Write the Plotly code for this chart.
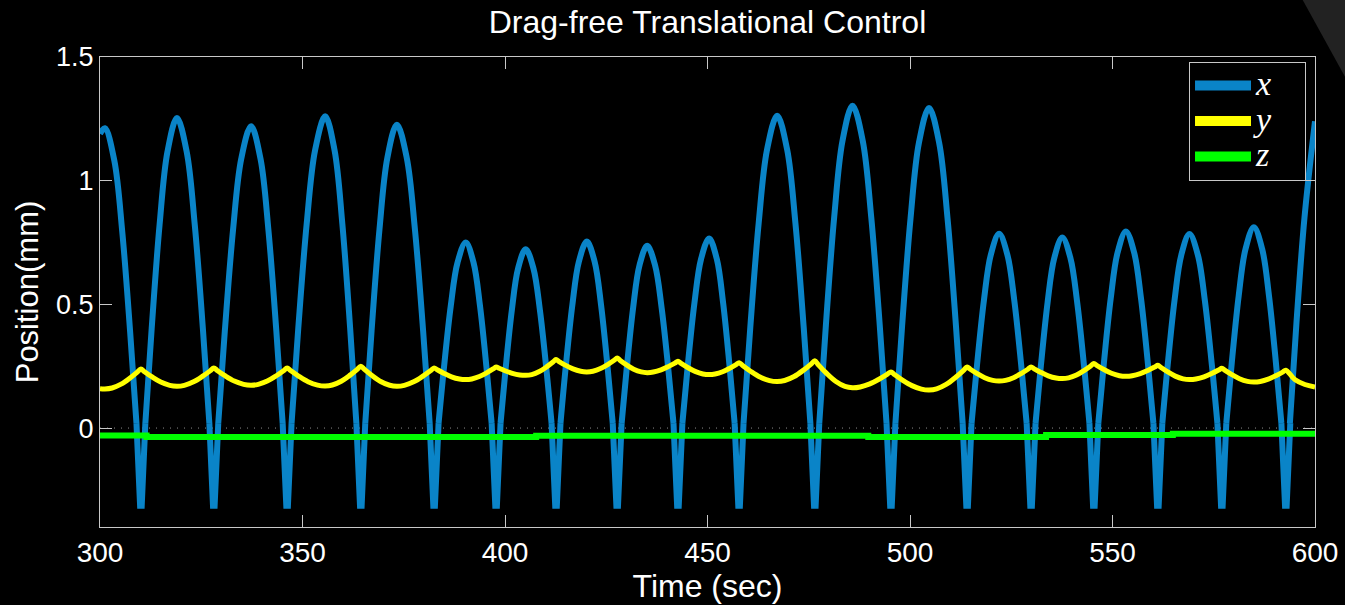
import plotly.graph_objects as go

# ---------------- data ----------------
# x (blue): times of the sharp downward spikes, spike bottoms, arc peaks
dip_t = [310.1, 328.1, 346.2, 364.4, 382.5, 397.8, 412.6, 427.7, 442.7,
         457.8, 476.5, 495.3, 514.1, 529.9, 545.4, 561.2, 577.0, 592.8]
dip_v = [-0.314] * 18
peak_t = [301.2, 319.0, 337.3, 355.6, 373.3, 390.3, 405.1, 420.2, 435.1,
          450.4, 467.2, 485.8, 504.7, 522.0, 537.6, 553.3, 569.0, 584.9]
peak_h = [1.212, 1.253, 1.220, 1.260, 1.226, 0.750, 0.723, 0.754, 0.737,
          0.766, 1.263, 1.303, 1.294, 0.785, 0.770, 0.795, 0.784, 0.812]
x_start = (300.0, 1.19)
x_end_t = [593.8, 595.4, 597.4, 600.0]
x_end_v = [0.02, 0.42, 0.85, 1.24]
# shape of one half-arc (fraction of time base->peak, fraction of height)
arc_u = [0.0, 0.2, 0.45, 0.7, 1.0]
arc_v = [0.0, 0.31, 0.65, 0.89, 1.0]
arc_base = 0.02
spike_halfwidth = 1.1
spike_tip_halfwidth = 0.2

# y (yellow): cusp values at spike times, minima between cusps
y_cusp = [0.239, 0.243, 0.243, 0.250, 0.243, 0.247, 0.277, 0.283, 0.270,
          0.264, 0.272, 0.227, 0.247, 0.247, 0.261, 0.254, 0.242, 0.234]
y_min = [0.158, 0.169, 0.173, 0.170, 0.169, 0.196, 0.213, 0.227, 0.224,
         0.216, 0.188, 0.163, 0.154, 0.190, 0.200, 0.209, 0.196, 0.186]
y_start = (300.0, 0.159)
y_end_t = [595.0, 597.5, 600.0]
y_end_v = [0.196, 0.176, 0.166]
cusp_u = [0.0, 0.1, 0.3, 0.55, 0.8, 1.0]
cusp_f = [0.0, 0.16, 0.45, 0.76, 0.95, 1.0]

# z (green): piecewise-constant level
z_t = [300.0, 311.5, 407.7, 489.7, 533.6, 564.9, 600.0]
z_v = [-0.030, -0.036, -0.031, -0.036, -0.028, -0.023, -0.023]

x_ticks = [300, 350, 400, 450, 500, 550, 600]
y_ticks = [0, 0.5, 1, 1.5]
series_names = ['x', 'y', 'z']

# ---------------- assemble marks ----------------
def half_arc(t_base, t_peak, h, rising=True):
    pts = [(t_base + (t_peak - t_base) * u, arc_base + (h - arc_base) * v)
           for u, v in zip(arc_u, arc_v)]
    return pts if rising else pts[::-1]

arc_t, arc_y = [], []
pts = [x_start, (peak_t[0], peak_h[0])] + half_arc(dip_t[0] - spike_halfwidth, peak_t[0], peak_h[0], rising=False)[1:]
arc_t += [p[0] for p in pts] + [None]
arc_y += [p[1] for p in pts] + [None]
for i in range(1, len(peak_t)):
    left = half_arc(dip_t[i - 1] + spike_halfwidth, peak_t[i], peak_h[i], True)
    right = half_arc(dip_t[i] - spike_halfwidth, peak_t[i], peak_h[i], False)
    pts = left + right[1:]
    arc_t += [p[0] for p in pts] + [None]
    arc_y += [p[1] for p in pts] + [None]
arc_t += x_end_t
arc_y += x_end_v

spk_t, spk_y = [], []
for td, dv in zip(dip_t, dip_v):
    spk_t += [td - spike_halfwidth, td - spike_tip_halfwidth, td + spike_tip_halfwidth,
              td + spike_halfwidth, None]
    spk_y += [arc_base, dv, dv, arc_base, None]

yl_t, yl_v = [y_start[0]], [y_start[1]]
yl_t.append(peak_t[0]); yl_v.append(y_min[0])
for i, td in enumerate(dip_t):
    c = y_cusp[i]
    tm, vm = peak_t[i], y_min[i]
    for u, f in list(zip(cusp_u, cusp_f))[::-1][1:]:
        yl_t.append(td - (td - tm) * u); yl_v.append(c - (c - vm) * f)
    if i + 1 < len(peak_t):
        tn, vn = peak_t[i + 1], y_min[i + 1]
        for u, f in list(zip(cusp_u, cusp_f))[1:]:
            yl_t.append(td + (tn - td) * u); yl_v.append(c - (c - vn) * f)
yl_t += y_end_t
yl_v += y_end_v

BLUE = '#0a84c8'
YELLOW = '#ffff00'
GREEN = '#00ff00'
AX = '#c8c8c8'
LEG_LABEL = '<span style="font-size:34px"><i>{}</i>&nbsp;&nbsp;&nbsp;</span>'

fig = go.Figure()
fig.add_trace(go.Scatter(x=arc_t, y=arc_y, mode='lines', name=series_names[0], legendgroup='x',
                         showlegend=False,
                         line=dict(color=BLUE, width=6, shape='spline', smoothing=1.0),
                         connectgaps=False, hoverinfo='skip'))
fig.add_trace(go.Scatter(x=spk_t, y=spk_y, mode='lines', name=series_names[0], legendgroup='x',
                         showlegend=False,
                         line=dict(color=BLUE, width=6), connectgaps=False, hoverinfo='skip'))
fig.add_trace(go.Scatter(x=yl_t, y=yl_v, mode='lines', name=series_names[1], legendgroup='y',
                         showlegend=False,
                         line=dict(color=YELLOW, width=5, shape='spline', smoothing=1.0),
                         hoverinfo='skip'))
fig.add_trace(go.Scatter(x=z_t, y=z_v, mode='lines', name=series_names[2], legendgroup='z',
                         showlegend=False,
                         line=dict(color=GREEN, width=6, shape='hv'), hoverinfo='skip'))
# legend entries (thicker sample lines, as in the reference legend)
for nm, col in zip(series_names, [BLUE, YELLOW, GREEN]):
    fig.add_trace(go.Scatter(x=[None], y=[None], mode='lines', name=LEG_LABEL.format(nm),
                             legendgroup=nm, line=dict(color=col, width=10), hoverinfo='skip'))

# dotted zero line
fig.add_shape(type='line', xref='x', yref='y', x0=300, x1=600, y0=0, y1=0,
              line=dict(color='#8a8a8a', width=1, dash='1px,6px'), layer='below')
# dark decoration in the top-right corner
fig.add_shape(type='path', xref='paper', yref='paper',
              path='M 0.98988,1.1213 L 1.0288,1.1213 L 1.0288,0.9387 Z',
              fillcolor='#222222', line=dict(width=0), layer='below')

SANS = 'Liberation Sans, Arial, Helvetica, sans-serif'
fig.update_layout(
    width=1345, height=605,
    paper_bgcolor='black', plot_bgcolor='black',
    margin=dict(l=100, r=30, t=57, b=78, autoexpand=False),
    title=dict(text='Drag-free Translational Control', x=0.5, xref='paper', xanchor='center',
               y=1 - 22 / 605, yref='container', yanchor='middle',
               font=dict(family=SANS, size=32, color='white')),
    legend=dict(x=0.9926, xanchor='right', y=0.990, yanchor='top',
                bgcolor='black', bordercolor=AX, borderwidth=1,
                font=dict(family='Liberation Serif, Times New Roman, serif', size=25, color='white'),
                itemwidth=56, tracegroupgap=0),
    xaxis=dict(range=[300, 600], tickvals=x_ticks, ticks='inside', ticklen=12, tickwidth=1,
               tickcolor=AX, showline=True, linecolor=AX, linewidth=1, mirror='ticks',
               showgrid=False, zeroline=False, automargin=False,
               tickfont=dict(family=SANS, size=28, color='white'),
               title=dict(text='Time (sec)', font=dict(family=SANS, size=32, color='white'), standoff=0)),
    yaxis=dict(range=[-0.4, 1.5], tickvals=y_ticks, ticks='inside', ticklen=12, tickwidth=1,
               tickcolor=AX, showline=True, linecolor=AX, linewidth=1, mirror='ticks',
               showgrid=False, zeroline=False, automargin=False,
               tickfont=dict(family=SANS, size=27, color='white'),
               title=dict(text='Position(mm)', font=dict(family=SANS, size=31, color='white'), standoff=8)),
)

fig.write_html('out.html')
